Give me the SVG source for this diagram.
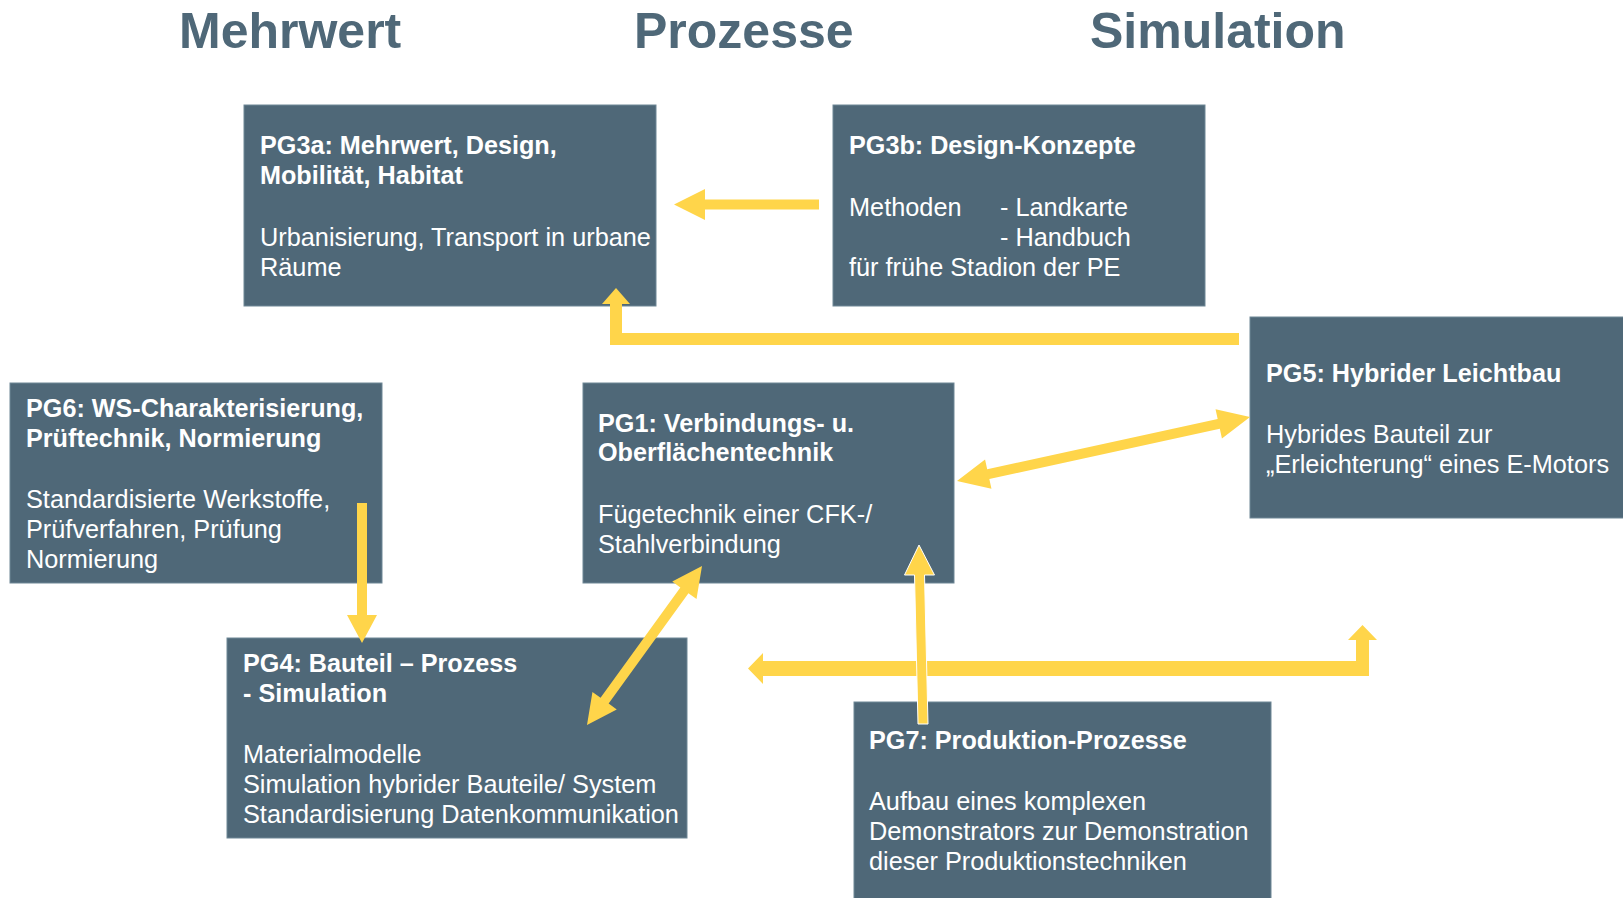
<svg xmlns="http://www.w3.org/2000/svg" width="1623" height="898" viewBox="0 0 1623 898">
<style>
.hdr{font-family:"Liberation Sans",Arial,sans-serif;font-weight:bold;font-size:50px;fill:#4f6878}
.box{fill:#4f6878;stroke:#6f8796;stroke-width:1}
.t{font-family:"Liberation Sans",Arial,sans-serif;font-weight:bold;font-size:25.2px;fill:#ffffff}
.b{font-family:"Liberation Sans",Arial,sans-serif;font-size:25.3px;fill:#ffffff}
.arr{fill:#ffd54a}
</style>
<rect width="1623" height="898" fill="#ffffff"/>
<g id="headers">
<text class="hdr" x="179" y="48">Mehrwert</text>
<text class="hdr" x="634" y="48">Prozesse</text>
<text class="hdr" x="1090" y="48">Simulation</text>
</g>
<g id="PG3a">
<rect class="box" x="244" y="105" width="412" height="201"/>
<text class="t" x="260" y="154">PG3a: Mehrwert, Design,</text>
<text class="t" x="260" y="184">Mobilität, Habitat</text>
<text class="b" x="260" y="246">Urbanisierung, Transport in urbane</text>
<text class="b" x="260" y="276">Räume</text>
</g>
<g id="PG3b">
<rect class="box" x="833" y="105" width="372" height="201"/>
<text class="t" x="849" y="154">PG3b: Design-Konzepte</text>
<text class="b" x="849" y="216">Methoden</text>
<text class="b" x="1000" y="216">- Landkarte</text>
<text class="b" x="1000" y="246">- Handbuch</text>
<text class="b" x="849" y="276">für frühe Stadion der PE</text>
</g>
<g id="PG5">
<rect class="box" x="1250" y="317" width="380" height="201"/>
<text class="t" x="1266" y="382">PG5: Hybrider Leichtbau</text>
<text class="b" x="1266" y="443">Hybrides Bauteil zur</text>
<text class="b" x="1266" y="473">„Erleichterung“ eines E-Motors</text>
</g>
<g id="PG6">
<rect class="box" x="10" y="383" width="372" height="200"/>
<text class="t" x="26" y="417">PG6: WS-Charakterisierung,</text>
<text class="t" x="26" y="447">Prüftechnik, Normierung</text>
<text class="b" x="26" y="508">Standardisierte Werkstoffe,</text>
<text class="b" x="26" y="538">Prüfverfahren, Prüfung</text>
<text class="b" x="26" y="568">Normierung</text>
</g>
<g id="PG1">
<rect class="box" x="583" y="383" width="371" height="200"/>
<text class="t" x="598" y="432">PG1: Verbindungs- u.</text>
<text class="t" x="598" y="461">Oberflächentechnik</text>
<text class="b" x="598" y="523">Fügetechnik einer CFK-/</text>
<text class="b" x="598" y="553">Stahlverbindung</text>
</g>
<g id="PG4">
<rect class="box" x="227" y="638" width="460" height="200"/>
<text class="t" x="243" y="672">PG4: Bauteil – Prozess</text>
<text class="t" x="243" y="702">- Simulation</text>
<text class="b" x="243" y="763">Materialmodelle</text>
<text class="b" x="243" y="793">Simulation hybrider Bauteile/ System</text>
<text class="b" x="243" y="823">Standardisierung Datenkommunikation</text>
</g>
<g id="PG7">
<rect class="box" x="854" y="702" width="417" height="210"/>
<text class="t" x="869" y="749">PG7: Produktion-Prozesse</text>
<text class="b" x="869" y="810">Aufbau eines komplexen</text>
<text class="b" x="869" y="840">Demonstrators zur Demonstration</text>
<text class="b" x="869" y="870">dieser Produktionstechniken</text>
</g>
<g id="connectors">
<polygon class="arr" points="674,204.5 705,189 705,199.5 819,199.5 819,209.5 705,209.5 705,220"/>
<polygon class="arr" points="1239,333 622,333 622,304 630,304 616,288 602,304 610,304 610,345 1239,345"/>
<polygon class="arr" points="357,503 367,503 367,615 377,615 362,643 347,615 357,615"/>
<polygon class="arr" points="702,566 696.5,599.1 688.45,593.2 608.65,703.6 616.75,709.5 587,725 592.45,691.9 600.55,697.8 680.35,587.4 672.25,581.5"/>
<polygon class="arr" points="957,481 991.46,488.83 989.33,479.06 1219.81,428.72 1221.94,438.49 1250,417 1215.54,409.17 1217.67,418.95 987.19,469.29 985.06,459.52"/>
<polygon class="arr" points="748,668.5 763,653 763,661 1356,661 1356,640 1348,640 1362.5,625 1377,640 1369,640 1369,676 763,676 763,684"/>
<polygon class="arr" stroke="#ffffff" stroke-width="1" points="919,545 934.5,575 924.5,575 928,724 918,724 914.5,575 904.5,575"/>
</g>
</svg>
